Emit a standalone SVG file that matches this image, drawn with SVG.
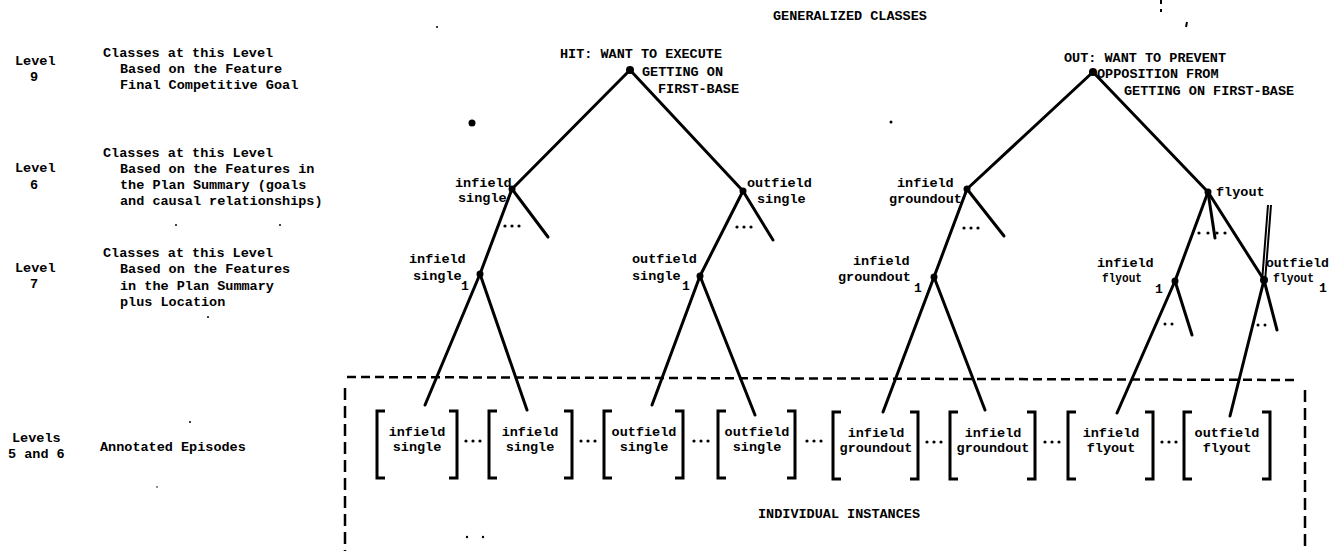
<svg xmlns="http://www.w3.org/2000/svg" width="1337" height="551" viewBox="0 0 1337 551">
<style>
text{font-family:"Liberation Mono","DejaVu Sans Mono",monospace;font-weight:bold;font-size:13.5px;fill:#000}
.sub{font-size:13px}
.ln{stroke:#000;stroke-width:3;stroke-linecap:round;fill:none}
.thin{stroke:#000;stroke-width:2;fill:none}
.br{stroke:#000;stroke-width:3;fill:none;stroke-linejoin:miter}
.dash{stroke:#000;stroke-width:2.5;fill:none;stroke-dasharray:9 5}
.dashv{stroke:#000;stroke-width:2.5;fill:none;stroke-dasharray:12 6}
.dot{fill:#000}
</style>
<rect width="1337" height="551" fill="#fff"/>

<g id="level-labels">
<text x="15" y="65">Level</text>
<text x="30" y="81">9</text>
<text x="103" y="57">Classes at this Level</text>
<text x="120" y="73">Based on the Feature</text>
<text x="120" y="89">Final Competitive Goal</text>

<text x="15" y="172">Level</text>
<text x="30" y="189">6</text>
<text x="103" y="157">Classes at this Level</text>
<text x="120" y="173">Based on the Features in</text>
<text x="120" y="189">the Plan Summary (goals</text>
<text x="120" y="205">and causal relationships)</text>

<text x="15" y="272">Level</text>
<text x="30" y="288">7</text>
<text x="103" y="257">Classes at this Level</text>
<text x="120" y="273">Based on the Features</text>
<text x="120" y="290">in the Plan Summary</text>
<text x="120" y="306">plus Location</text>

<text x="12" y="442">Levels</text>
<text x="8" y="458">5 and 6</text>
<text x="100" y="451">Annotated Episodes</text>
</g>

<g id="titles">
<text x="773" y="20">GENERALIZED CLASSES</text>
<text x="758" y="518">INDIVIDUAL INSTANCES</text>
</g>

<g id="connectors">
<line class="ln" x1="630" y1="70" x2="512" y2="189"/>
<line class="ln" x1="630" y1="70" x2="743" y2="191"/>
<line class="ln" x1="512" y1="189" x2="480" y2="274"/>
<line class="ln" x1="512" y1="189" x2="548" y2="237"/>
<line class="ln" x1="743" y1="191" x2="700" y2="276"/>
<line class="ln" x1="743" y1="191" x2="773" y2="240"/>
<line class="ln" x1="480" y1="274" x2="425" y2="405"/>
<line class="ln" x1="480" y1="274" x2="527" y2="410"/>
<line class="ln" x1="700" y1="276" x2="652" y2="405"/>
<line class="ln" x1="700" y1="276" x2="755" y2="415"/>

<line class="ln" x1="1093" y1="72" x2="967" y2="189"/>
<line class="ln" x1="1093" y1="72" x2="1208" y2="192"/>
<line class="ln" x1="967" y1="189" x2="934" y2="277"/>
<line class="ln" x1="967" y1="189" x2="1004" y2="236"/>
<line class="ln" x1="934" y1="277" x2="883" y2="412"/>
<line class="ln" x1="934" y1="277" x2="985" y2="410"/>
<line class="ln" x1="1208" y1="192" x2="1175" y2="281"/>
<line class="ln" x1="1208" y1="192" x2="1215" y2="238"/>
<line class="ln" x1="1208" y1="192" x2="1264" y2="280"/>
<line class="ln" x1="1175" y1="281" x2="1117" y2="413"/>
<line class="ln" x1="1175" y1="281" x2="1192" y2="335"/>
<line class="ln" x1="1264" y1="280" x2="1230" y2="416"/>
<line class="ln" x1="1264" y1="280" x2="1277" y2="330"/>
<line class="thin" x1="1262" y1="282" x2="1268" y2="205"/>
<line class="thin" x1="1265" y1="282" x2="1271" y2="205"/>
</g>

<g id="hit-root">
<circle class="dot" cx="630" cy="70" r="4"/>
<text x="560" y="58">HIT: WANT TO EXECUTE</text>
<text x="642" y="76">GETTING ON</text>
<text x="658" y="93">FIRST-BASE</text>
</g>

<g id="out-root">
<circle class="dot" cx="1093" cy="72" r="4"/>
<text x="1064" y="62">OUT: WANT TO PREVENT</text>
<text x="1097" y="78">OPPOSITION FROM</text>
<text x="1124" y="95">GETTING ON FIRST-BASE</text>
</g>

<g id="infield-single">
<circle class="dot" cx="512" cy="189" r="3.5"/>
<text x="455" y="187">infield</text>
<text x="458" y="202">single</text>
<circle class="dot" cx="505" cy="226" r="1.6"/><circle class="dot" cx="512" cy="226" r="1.6"/><circle class="dot" cx="519" cy="226" r="1.6"/>
</g>

<g id="outfield-single">
<circle class="dot" cx="743" cy="191" r="3.5"/>
<text x="747" y="187">outfield</text>
<text x="757" y="203">single</text>
<circle class="dot" cx="737" cy="227" r="1.6"/><circle class="dot" cx="744" cy="227" r="1.6"/><circle class="dot" cx="751" cy="227" r="1.6"/>
</g>

<g id="infield-groundout">
<circle class="dot" cx="967" cy="189" r="3.5"/>
<text x="897" y="187">infield</text>
<text x="889" y="203">groundout</text>
<circle class="dot" cx="964" cy="228" r="1.6"/><circle class="dot" cx="971" cy="228" r="1.6"/><circle class="dot" cx="978" cy="228" r="1.6"/>
</g>

<g id="flyout">
<circle class="dot" cx="1208" cy="192" r="3.5"/>
<text x="1216" y="196">flyout</text>
<circle class="dot" cx="1199" cy="233" r="1.6"/><circle class="dot" cx="1208" cy="233" r="1.6"/><circle class="dot" cx="1217" cy="233" r="1.6"/><circle class="dot" cx="1225" cy="233" r="1.6"/>
</g>

<g id="infield-single-1">
<circle class="dot" cx="480" cy="274" r="3.5"/>
<text x="409" y="263">infield</text>
<text x="413" y="280">single</text>
<text class="sub" x="461" y="290">1</text>
</g>

<g id="outfield-single-1">
<circle class="dot" cx="700" cy="276" r="3.5"/>
<text x="632" y="263">outfield</text>
<text x="632" y="280">single</text>
<text class="sub" x="682" y="290">1</text>
</g>

<g id="infield-groundout-1">
<circle class="dot" cx="934" cy="277" r="3.5"/>
<text x="853" y="265">infield</text>
<text x="838" y="281">groundout</text>
<text class="sub" x="914" y="292">1</text>
</g>

<g id="infield-flyout-1">
<circle class="dot" cx="1175" cy="281" r="3.5"/>
<text x="1097" y="267">infield</text>
<text x="1102" y="282" textLength="40" lengthAdjust="spacingAndGlyphs">flyout</text>
<text class="sub" x="1155" y="293">1</text>
<circle class="dot" cx="1165" cy="324" r="1.5"/><circle class="dot" cx="1172" cy="324" r="1.5"/>
</g>

<g id="outfield-flyout-1">
<circle class="dot" cx="1264" cy="280" r="4"/>
<text x="1266" y="267" textLength="63" lengthAdjust="spacingAndGlyphs">outfield</text>
<text x="1273" y="282" textLength="41" lengthAdjust="spacingAndGlyphs">flyout</text>
<text class="sub" x="1319" y="292">1</text>
<circle class="dot" cx="1258" cy="325" r="1.5"/><circle class="dot" cx="1265" cy="325" r="1.5"/>
</g>

<g id="instances-box">
<line class="dash" x1="347" y1="377" x2="1297" y2="380"/>
<line class="dashv" x1="345" y1="388" x2="345" y2="551"/>
<line class="dashv" x1="1305" y1="390" x2="1305" y2="551"/>
</g>

<g id="episode-1">
<path class="br" d="M385 411H377V478H385M449 411H457V478H449"/>
<text x="417" y="436" text-anchor="middle">infield</text>
<text x="417" y="451" text-anchor="middle">single</text>
</g>
<g id="episode-2">
<path class="br" d="M497 411H489V478H497M564 411H572V478H564"/>
<text x="530" y="436" text-anchor="middle">infield</text>
<text x="530" y="451" text-anchor="middle">single</text>
</g>
<g id="episode-3">
<path class="br" d="M612 411H604V478H612M675 411H683V478H675"/>
<text x="644" y="436" text-anchor="middle">outfield</text>
<text x="644" y="451" text-anchor="middle">single</text>
</g>
<g id="episode-4">
<path class="br" d="M726 411H718V478H726M787 411H795V478H787"/>
<text x="757" y="436" text-anchor="middle">outfield</text>
<text x="757" y="451" text-anchor="middle">single</text>
</g>
<g id="episode-5">
<path class="br" d="M841 412H833V479H841M910 412H918V479H910"/>
<text x="876" y="437" text-anchor="middle">infield</text>
<text x="876" y="452" text-anchor="middle">groundout</text>
</g>
<g id="episode-6">
<path class="br" d="M958 412H950V479H958M1027 412H1035V479H1027"/>
<text x="993" y="437" text-anchor="middle">infield</text>
<text x="993" y="452" text-anchor="middle">groundout</text>
</g>
<g id="episode-7">
<path class="br" d="M1076 412H1068V479H1076M1145 412H1153V479H1145"/>
<text x="1111" y="437" text-anchor="middle">infield</text>
<text x="1111" y="452" text-anchor="middle">flyout</text>
</g>
<g id="episode-8">
<path class="br" d="M1192 412H1184V479H1192M1262 412H1270V479H1262"/>
<text x="1227" y="437" text-anchor="middle">outfield</text>
<text x="1227" y="452" text-anchor="middle">flyout</text>
</g>

<g id="ellipses">
<circle class="dot" cx="466" cy="441" r="1.6"/><circle class="dot" cx="473" cy="441" r="1.6"/><circle class="dot" cx="480" cy="441" r="1.6"/>
<circle class="dot" cx="581" cy="441" r="1.6"/><circle class="dot" cx="588" cy="441" r="1.6"/><circle class="dot" cx="595" cy="441" r="1.6"/>
<circle class="dot" cx="694" cy="441" r="1.6"/><circle class="dot" cx="701" cy="441" r="1.6"/><circle class="dot" cx="708" cy="441" r="1.6"/>
<circle class="dot" cx="807" cy="441" r="1.6"/><circle class="dot" cx="814" cy="441" r="1.6"/><circle class="dot" cx="821" cy="441" r="1.6"/>
<circle class="dot" cx="927" cy="442" r="1.6"/><circle class="dot" cx="934" cy="442" r="1.6"/><circle class="dot" cx="941" cy="442" r="1.6"/>
<circle class="dot" cx="1045" cy="442" r="1.6"/><circle class="dot" cx="1052" cy="442" r="1.6"/><circle class="dot" cx="1059" cy="442" r="1.6"/>
<circle class="dot" cx="1162" cy="442" r="1.6"/><circle class="dot" cx="1169" cy="442" r="1.6"/><circle class="dot" cx="1176" cy="442" r="1.6"/>
</g>

<g id="specks">
<circle class="dot" cx="472" cy="123" r="3.5"/>
<circle class="dot" cx="891" cy="122" r="1.5"/>
<circle class="dot" cx="437" cy="27" r="1"/>
<circle class="dot" cx="467" cy="537" r="1.2"/>
<circle class="dot" cx="483" cy="537" r="1.2"/>
<circle class="dot" cx="176" cy="225" r="1"/>
<circle class="dot" cx="280" cy="225" r="1"/>
<circle class="dot" cx="208" cy="317" r="1"/>
<circle class="dot" cx="190" cy="422" r="1"/>
<circle class="dot" cx="157" cy="487" r="0.8"/>
<line class="thin" x1="1161" y1="0" x2="1161" y2="4"/>
<line class="thin" x1="1161" y1="9" x2="1161" y2="12"/>
<line class="thin" x1="1187" y1="22" x2="1186" y2="27"/>
</g>
</svg>
